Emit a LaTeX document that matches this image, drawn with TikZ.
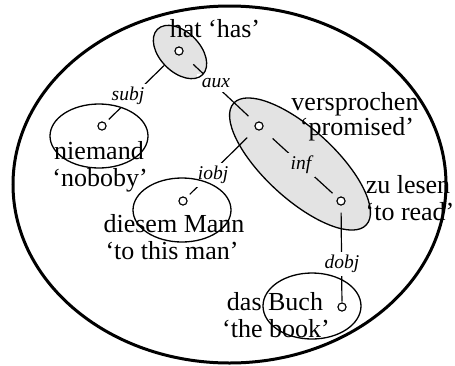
\documentclass[tikz,border=0pt]{standalone}
\usepackage{fontspec}
\setmainfont{Liberation Serif}
\begin{document}
\begin{tikzpicture}[x=1pt,y=-1pt,
  word/.style={font=\fontsize{26}{27}\selectfont, inner sep=0pt, anchor=base},
  rel/.style={font=\fontsize{19.5}{20}\selectfont\itshape, inner sep=3.5pt, fill=white},
  dot/.style={circle, draw, fill=white, line width=1pt, minimum size=8pt, inner sep=0pt},
  shell/.style={line width=1.3pt},
  shadefill/.style={fill=gray!22},
  link/.style={line width=1.2pt}]
\useasboundingbox (0,0) rectangle (455,365);
% outer ellipse
\draw[line width=3pt] (229.5,184.5) ellipse [x radius=216.5, y radius=178.5];
% shaded group fills
\fill[shadefill, rotate around={-45:(180,52)}] (180,52) ellipse [x radius=32, y radius=20];
\fill[shadefill, rotate around={-42.5:(300,164)}] (300,164) ellipse [x radius=90, y radius=35];
% words
\node[word] (hatw) at (215,37) {hat ‘has’};
\node[word] (niemandw) at (99,159) {niemand};
\node[word] (niemandg) at (100,186) {‘noboby’};
\node[word] (diesemw) at (174,232) {diesem Mann};
\node[word] (diesemg) at (172,259) {‘to this man’};
\node[word] (versw) at (355,110) {versprochen};
\node[word] (versg) at (357,135) {‘promised’};
\node[word] (zuw) at (408,193) {zu lesen};
\node[word] (zug) at (410,220) {‘to read’};
\node[word] (buchw) at (275,310) {das Buch};
\node[word] (buchg) at (276,337) {‘the book’};
% dependency circles (positions)
\node[dot] (hatc) at (179,51) {};
\node[dot] (niemandc) at (102,126) {};
\node[dot] (diesemc) at (183,201) {};
\node[dot] (versc) at (259,126) {};
\node[dot] (zuc) at (341,201) {};
\node[dot] (buchc) at (342,307) {};
% connectors
\draw[link, shorten <=16pt, shorten >=5pt] (hatc) -- (niemandc);
\draw[link, shorten <=15pt, shorten >=10pt] (hatc) -- (versc);
\draw[link, shorten <=12pt, shorten >=5pt] (versc) -- (diesemc);
\draw[link, shorten <=14pt, shorten >=7pt] (versc) -- (zuc);
\draw[link, shorten <=7pt, shorten >=1pt] (zuc) -- (buchc);
% relation labels
\node[rel] (subj) at (128,96) {subj};
\node[rel, inner sep=4.5pt] (aux) at (216,83) {aux};
\node[rel] (iobj) at (213,175) {iobj};
\node[rel, fill=gray!22] (inf) at (301,165) {inf};
\node[rel] (dobj) at (342,264) {dobj};
% group outlines
\draw[shell, rotate around={-45:(180,52)}] (180,52) ellipse [x radius=32, y radius=20];
\draw[shell, rotate around={-42.5:(300,164)}] (300,164) ellipse [x radius=90, y radius=35];
\draw[shell] (99,136) ellipse [x radius=49, y radius=32];
\draw[shell] (182,210) ellipse [x radius=49, y radius=32];
\draw[shell] (312,306) ellipse [x radius=49, y radius=33];
% redraw circles on top
\node[dot] at (hatc) {};
\node[dot] at (niemandc) {};
\node[dot] at (diesemc) {};
\node[dot] at (versc) {};
\node[dot] at (zuc) {};
\node[dot] at (buchc) {};
\end{tikzpicture}
\end{document}
